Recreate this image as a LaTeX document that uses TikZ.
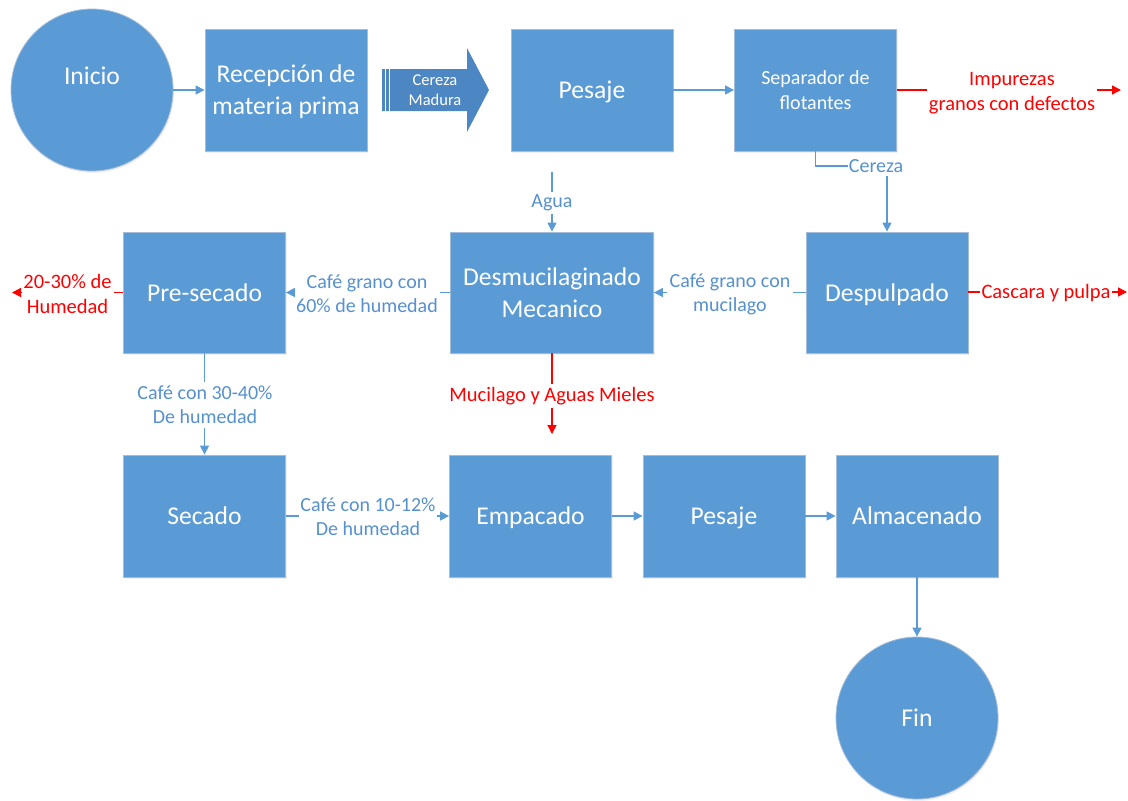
\documentclass[tikz,border=0pt]{standalone}
\usepackage{fontspec}
\setmainfont{Carlito}
\usetikzlibrary{arrows.meta,shadows}
\definecolor{boxblue}{HTML}{5B9BD5}
\definecolor{boxedge}{HTML}{A3BCD8}
\definecolor{linkblue}{HTML}{5B9BD5}
\definecolor{labelblue}{HTML}{5590CF}
\definecolor{darkarrow}{HTML}{4D87C3}
\definecolor{outred}{HTML}{FF0000}
% strut with the font's full ascent and descent, so lines sit centred like in a text box
\newcommand{\fullline}{\rule[-0.269em]{0pt}{1.221em}}
\begin{document}
\begin{tikzpicture}[x=1pt,y=-1pt,
  stage/.style={rectangle, fill=boxblue, draw=boxedge, line width=0.8pt, text=white,
    align=center, minimum width=162pt, minimum height=122pt, inner sep=0pt,
    font=\fontsize{25.6}{30.5}\selectfont,
    drop shadow={opacity=0.12, shadow xshift=1pt, shadow yshift=-2pt}},
  terminal/.style={stage, circle, minimum size=162pt},
  flowlabel/.style={text=labelblue, align=center, inner xsep=2pt, inner ysep=3pt,
    font=\fontsize{20}{24}\selectfont},
  wastelabel/.style={text=outred, align=center, inner xsep=2pt, inner ysep=3pt,
    font=\fontsize{20.5}{24.8}\selectfont},
  link/.style={draw=linkblue, line width=1.3pt},
  linkarrow/.style={link, -{Triangle[length=9pt,width=9pt]}},
  waste/.style={draw=outred, line width=1.4pt},
  wastearrow/.style={waste, -{Triangle[length=9pt,width=9pt]}},
]
\useasboundingbox (0,0) rectangle (1128,801);

% process stages
\node[terminal] (ini) at (92,90) {};
\node[text=white, font=\fontsize{25.6}{30.5}\selectfont] (iniText) at (92,76) {\fullline Inicio};
\node[stage] (rec) at (286,90) {\fullline Recepción de\\\fullline materia prima};
\node[stage] (pes1) at (592,90) {\fullline Pesaje};
\node[stage, font=\fontsize{20}{25}\selectfont] (sep) at (815.5,90) {\fullline Separador de\\\fullline flotantes};
\node[stage, minimum height=121pt] (pre) at (204.5,292.5) {\fullline Pre-secado};
\node[stage, minimum width=203pt, minimum height=121pt] (des) at (552,292.5) {\fullline Desmucilaginado\\\fullline Mecanico};
\node[stage, minimum height=121pt] (desp) at (887,292.5) {\fullline Despulpado};
\node[stage] (sec) at (204.5,516) {\fullline Secado};
\node[stage] (emp) at (530.5,516) {\fullline Empacado};
\node[stage] (pes2) at (724,516) {\fullline Pesaje};
\node[stage] (alm) at (917,516) {\fullline Almacenado};
\node[terminal] (fin) at (917,718) {\fullline Fin};

% striped block arrow for the incoming cherries
\fill[darkarrow] (382,69) -- (467,69) -- (467,48) -- (489,90) -- (467,132)
  -- (467,111) -- (382,111) -- cycle;
\draw[white, line width=0.8pt] (385.4,69) -- (385.4,111) (389.8,69) -- (389.8,111);
\node[text=white, align=center, font=\fontsize{16.5}{20}\selectfont] (cm) at (435,90.5) {Cereza\\Madura};

% main flow
\draw[linkarrow] (ini) -- (rec);
\draw[linkarrow] (pes1) -- (sep);

% floating impurities
\node[wastelabel] (imp) at (1012,93) {Impurezas\\granos con defectos};
\coordinate (impEnd) at (1121,90);
\draw[waste] (sep.east) -- (sep.east -| imp.west);
\draw[wastearrow] (impEnd -| imp.east) -- (impEnd);

% cherries to pulping
\node[flowlabel, inner xsep=1pt] (cer) at (876,166) {Cereza};
\draw[link] (sep.south) |- (cer.west);
\draw[linkarrow] (cer.south -| desp.north) -- (desp.north);

% water into demucilaging
\coordinate (aguaTop) at (552,172);
\node[flowlabel] (agua) at (552,203) {Agua};
\draw[link] (aguaTop) -- (agua.north);
\draw[linkarrow] (agua.south) -- (agua.south -| des.north) -- (des.north);

% pulping outputs
\node[wastelabel, inner xsep=1pt] (casc) at (1046,293) {Cascara y pulpa};
\coordinate (cascEnd) at (1127,292);
\draw[waste] (desp.east |- cascEnd) -- (cascEnd -| casc.west);
\draw[wastearrow] (cascEnd -| casc.east) -- (cascEnd);

\node[flowlabel] (lblMuc) at (730,294) {Café grano con\\mucilago};
\draw[link] (desp.west |- des.east) -- (des.east -| lblMuc.east);
\draw[linkarrow] (des.east -| lblMuc.west) -- (des.east);

% demucilaging outputs
\node[wastelabel] (miel) at (552,396) {Mucilago y Aguas Mieles};
\coordinate (mielEnd) at (552,434);
\draw[waste] (des.south) -- (miel.north);
\draw[wastearrow] (miel.south) -- (mielEnd);

\node[flowlabel] (lblSesenta) at (367,294) {Café grano con\\60\% de humedad};
\draw[link] (des.west) -- (des.west -| lblSesenta.east);
\draw[linkarrow] (des.west -| lblSesenta.west) -- (pre.east);

% pre-drying outputs
\node[wastelabel] (hum) at (67.5,294) {20-30\% de\\Humedad};
\coordinate (humEnd) at (12,292.5);
\draw[waste] (pre.west) -- (pre.west -| hum.east);
\draw[wastearrow] (humEnd -| hum.west) -- (humEnd);

\node[flowlabel, inner ysep=3.5pt] (lblTreinta) at (205,405) {Café con 30-40\%\\De humedad};
\draw[link] (pre.south) -- (pre.south |- lblTreinta.north);
\draw[linkarrow] (pre.south |- lblTreinta.south) -- (sec.north);

% drying to packing and storage
\node[flowlabel, inner xsep=1pt] (lblDiez) at (368,517) {Café con 10-12\%\\De humedad};
\draw[link] (sec.east) -- (sec.east -| lblDiez.west);
\draw[linkarrow] (sec.east -| lblDiez.east) -- (emp.west);
\draw[linkarrow] (emp) -- (pes2);
\draw[linkarrow] (pes2) -- (alm);
\draw[linkarrow] (alm) -- (fin);
\end{tikzpicture}
\end{document}
